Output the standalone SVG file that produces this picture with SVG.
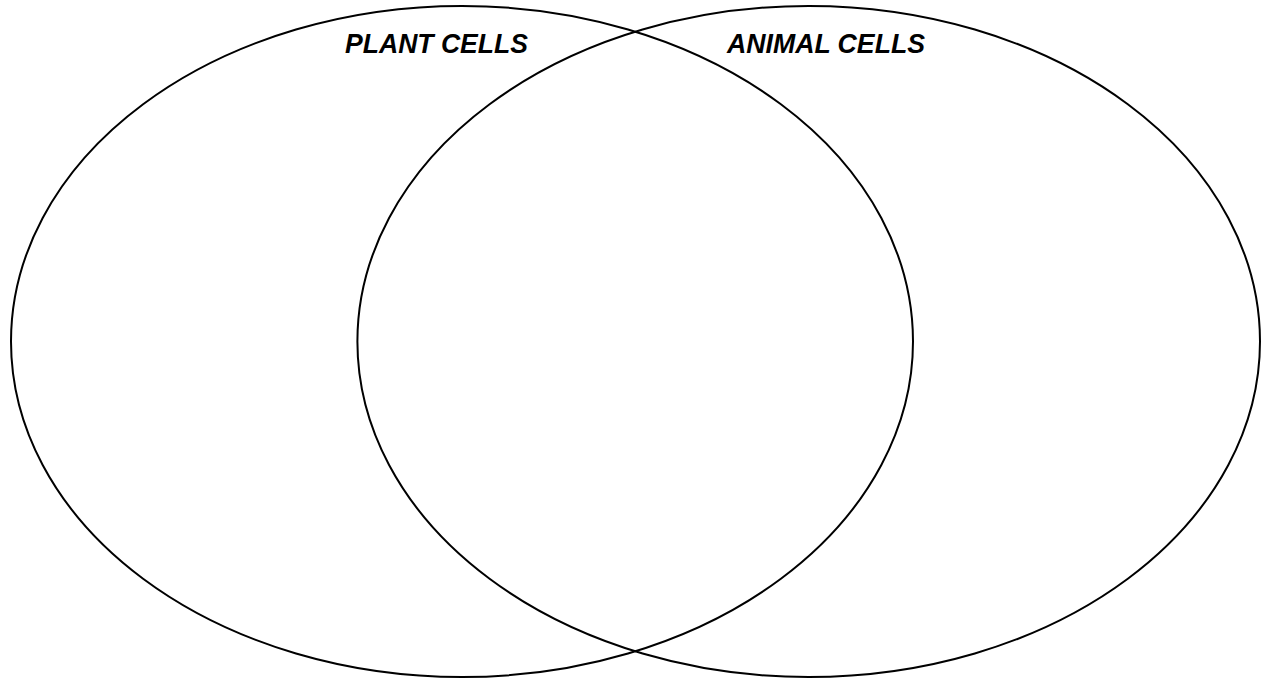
<svg xmlns="http://www.w3.org/2000/svg" width="1262" height="679" viewBox="0 0 1262 679">
<style>
.ring{fill:none;stroke:#000;stroke-width:2}
.lbl{font-family:"Liberation Sans",Arial,sans-serif;font-weight:bold;font-style:italic;font-size:28px;fill:#000}
</style>
<rect width="1262" height="679" fill="#fff"/>
<g id="plant">
<ellipse class="ring" cx="462" cy="341.5" rx="451" ry="335.5"/>
<text class="lbl" x="345" y="53" textLength="183" lengthAdjust="spacingAndGlyphs">PLANT CELLS</text>
</g>
<g id="animal">
<ellipse class="ring" cx="808.7" cy="341.5" rx="451.3" ry="335.5"/>
<text class="lbl" x="727" y="53" textLength="198" lengthAdjust="spacingAndGlyphs">ANIMAL CELLS</text>
</g>
<g id="connectors"/>
</svg>
